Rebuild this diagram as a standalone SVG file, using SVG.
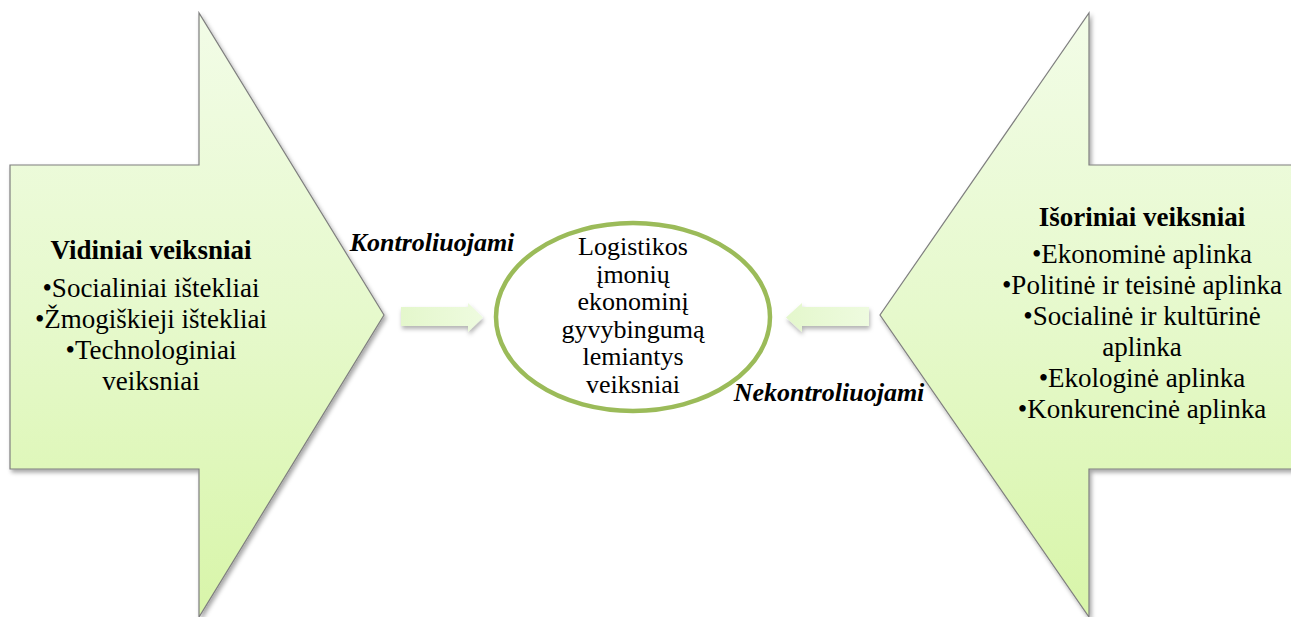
<svg xmlns="http://www.w3.org/2000/svg" width="1291" height="617" viewBox="0 0 1291 617">
<defs>
<linearGradient id="bigfill" x1="0" y1="0" x2="0" y2="1">
<stop offset="0" stop-color="#f2fce7"/>
<stop offset="0.5" stop-color="#e6f9cc"/>
<stop offset="1" stop-color="#d8f5a9"/>
</linearGradient>
<linearGradient id="smallfill" x1="0" y1="0" x2="1" y2="0">
<stop offset="0" stop-color="#e4f7cc"/>
<stop offset="1" stop-color="#eefbdf"/>
</linearGradient>
<filter id="shadow" x="-10%" y="-10%" width="130%" height="130%">
<feDropShadow dx="2" dy="3" stdDeviation="2" flood-color="#000" flood-opacity="0.35"/>
</filter>
<filter id="shadowS" x="-20%" y="-40%" width="140%" height="200%">
<feDropShadow dx="1" dy="3" stdDeviation="2" flood-color="#000" flood-opacity="0.3"/>
</filter>
</defs>
<style>
.big{fill:url(#bigfill);stroke:#7f7f7f;stroke-width:1.2;filter:url(#shadow)}
.small{fill:url(#smallfill);stroke:none;filter:url(#shadowS)}
.t{font-family:"Liberation Serif","Times New Roman",serif;font-size:27px;fill:#000;text-anchor:middle}
.b{font-weight:bold}
.c{font-family:"Liberation Serif","Times New Roman",serif;font-size:26px;fill:#000;text-anchor:middle}
.lbl{font-family:"Liberation Serif","Times New Roman",serif;font-size:26px;font-weight:bold;font-style:italic;fill:#000;text-anchor:middle}
</style>
<rect width="1291" height="617" fill="#ffffff"/>
<g id="vidiniai">
<path class="big" d="M10,165 H199 V13 L384,315 L199,617 V469 H10 Z"/>
<text class="t b" x="151" y="259">Vidiniai veiksniai</text>
<text class="t" x="151" y="297">•Socialiniai ištekliai</text>
<text class="t" x="151" y="328">•Žmogiškieji ištekliai</text>
<text class="t" x="151" y="359">•Technologiniai</text>
<text class="t" x="151" y="390">veiksniai</text>
</g>
<g id="isoriniai">
<path class="big" d="M1302,165 H1089 V13 L880,315 L1089,617 V469 H1302 Z"/>
<text class="t b" x="1142" y="226">Išoriniai veiksniai</text>
<text class="t" x="1142" y="263">•Ekonominė aplinka</text>
<text class="t" x="1142" y="294">•Politinė ir teisinė aplinka</text>
<text class="t" x="1142" y="325">•Socialinė ir kultūrinė</text>
<text class="t" x="1142" y="356">aplinka</text>
<text class="t" x="1142" y="387">•Ekologinė aplinka</text>
<text class="t" x="1142" y="418">•Konkurencinė aplinka</text>
</g>
<g id="centras">
<ellipse cx="633" cy="317" rx="137" ry="94" fill="#ffffff" stroke="#9bbb59" stroke-width="4.5"/>
<text class="c" x="633" y="255">Logistikos</text>
<text class="c" x="633" y="282.5">įmonių</text>
<text class="c" x="633" y="310">ekonominį</text>
<text class="c" x="633" y="337.5">gyvybingumą</text>
<text class="c" x="633" y="365">lemiantys</text>
<text class="c" x="633" y="392.5">veiksniai</text>
</g>
<g id="connectors">
<path class="small" d="M401,307 H468 V303 L483,317.5 L468,332 V326 H401 Z"/>
<path class="small" d="M869,307 H802 V303 L786,317.5 L802,332 V326 H869 Z"/>
<text class="lbl" x="432" y="251">Kontroliuojami</text>
<text class="lbl" x="829" y="401">Nekontroliuojami</text>
</g>
</svg>
